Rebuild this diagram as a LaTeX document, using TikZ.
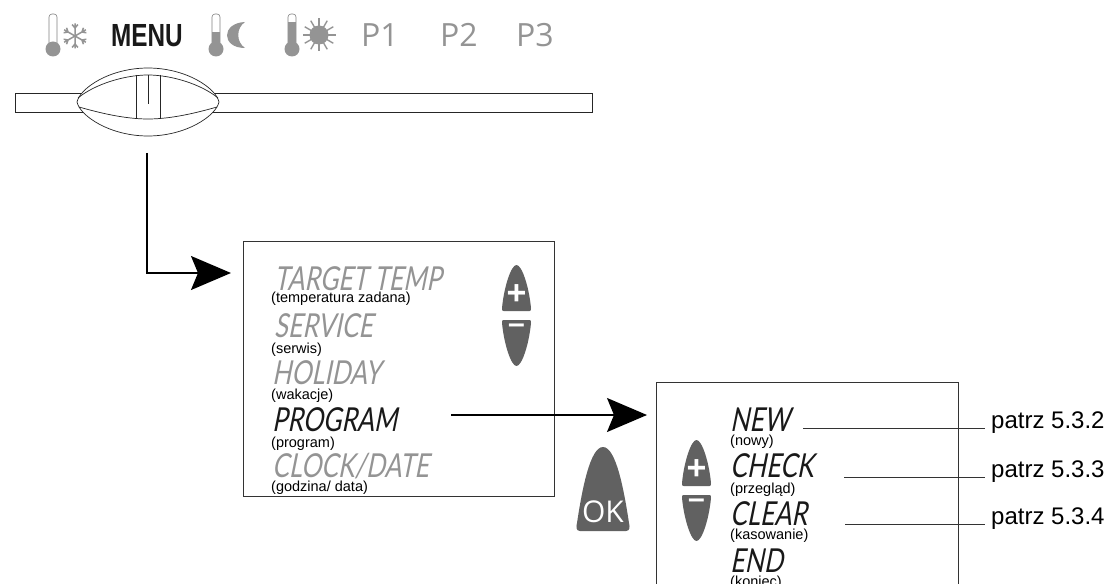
\documentclass[tikz,border=0pt]{standalone}
\usepackage{fontspec}
\usepackage{tikz}
\usetikzlibrary{arrows.meta,positioning}
\setmainfont{Liberation Sans}
\newfontfamily\lcdfont[FakeStretch=0.76,FakeSlant=0.2]{Lato}
\newfontfamily\menufont[FakeStretch=0.76]{Liberation Sans}
\newfontfamily\tabfont{Open Sans}

\begin{document}
\begin{tikzpicture}[x=1pt,y=-1pt,>=Stealth,
  screen/.style={draw=black!80,line width=0.8pt,inner sep=0pt},
  lcd/.style={anchor=base west,inner sep=0pt,text=black!42,font=\lcdfont\fontsize{33}{33}\selectfont},
  lcdon/.style={lcd,text=black!90},
  capt/.style={anchor=west,inner sep=0pt,yshift=-1.5pt,font=\fontsize{14.5}{16}\selectfont},
  tab/.style={anchor=base west,inner sep=0pt,text=black!42,font=\tabfont\fontsize{32}{32}\selectfont},
  ref/.style={anchor=base west,inner sep=0pt,font=\fontsize{24}{24}\selectfont},
  flow/.style={->,line width=1.5pt},
  leader/.style={draw=black!80,line width=0.8pt,shorten >=6pt},
  outline/.style={draw=black!85,line width=0.7pt},
  thermo/.pic={
    \draw[draw=black!50,line width=0.6pt,rounded corners=3pt] (-4,36) -- (-4,0) -- (4,0) -- (4,36);
    \fill[black!42] (-4,#1) rectangle (4,36);
    \fill[black!42] (0,35) circle (7.5);},
  updown/.pic={
    \fill[black!62] (1.5,46) .. controls (0,46) and (0,45) .. (0,43)
      .. controls (2,22) and (9,0) .. (14.5,0) .. controls (20,0) and (27,22) .. (29,43)
      .. controls (29,45) and (29,46) .. (27.5,46) -- cycle;
    \fill[black!62] (1.5,55) .. controls (0,55) and (0,56) .. (0,58)
      .. controls (2,79) and (9,101) .. (14.5,101) .. controls (20,101) and (27,79) .. (29,58)
      .. controls (29,56) and (29,55) .. (27.5,55) -- cycle;
    \node[text=white,inner sep=0pt,font=\bfseries\fontsize{34}{34}\selectfont] at (14.5,30) {+};
    \node[text=white,inner sep=0pt,font=\bfseries\fontsize{30}{30}\selectfont] at (14.5,64) {--};}]
\useasboundingbox (0,0) rectangle (1110,585);
\clip (0,0) rectangle (1110,583);
% top row
\pic at (53,14) {thermo=36};
\pic at (216,14) {thermo=18};
\pic at (292,14) {thermo=8};
\begin{scope}[shift={(75,36)},draw=black!42,line width=1.5pt]
  \foreach \a in {30,90,150,210,270,330}
    \draw (0,0) -- (\a:12.5) (\a:8) -- ++(\a+40:4.5) (\a:8) -- ++(\a-40:4.5);
\end{scope}
\fill[black!42] (245,22) .. controls (221,23) and (221,48) .. (245,48)
  .. controls (236,42) and (236,28) .. (245,22) -- cycle;
\fill[black!42] (319,35) circle (9.5);
\begin{scope}[shift={(319,35)},draw=black!42,line width=1.4pt]
  \foreach \a in {0,30,...,330}
    \draw (0,0) -- (\a:16.5);
\end{scope}
\node[anchor=base west,inner sep=0pt,text=black!90,font=\menufont\bfseries\fontsize{32}{32}\selectfont] (menu) at (111,47) {MENU};
\node[tab] (pa) at (361,47) {P1};
\node[tab] (pb) at (440,47) {P2};
\node[tab] (pc) at (516,47) {P3};
% slider
\draw[outline,fill=white] (15,93.5) rectangle (592,112);
\draw[outline,fill=white] (77,102) .. controls (80,88) and (110,68) .. (148,68)
  .. controls (186,68) and (216,88) .. (219,102) .. controls (216,116) and (186,136) .. (148,136)
  .. controls (110,136) and (80,116) .. (77,102) -- cycle;
\draw[outline] (78,98) .. controls (95,84) and (125,75) .. (148,75)
  .. controls (171,75) and (201,84) .. (218,98);
\draw[outline] (79,107) .. controls (100,113) and (125,119) .. (148,119)
  .. controls (171,119) and (196,113) .. (217,107);
\draw[outline] (136,75) -- (136,119) (160,75) -- (160,119) (148,75) -- (148,104);
% first screen
\node[screen,minimum width=311pt,minimum height=255pt] (mainbox) at (398.5,369) {};
\node[lcd] (target) at (274,290) {TARGET TEMP};
\node[capt] (targetc) at (271,297) {(temperatura zadana)};
\node[lcd] (service) at (274,337) {SERVICE};
\node[capt] (servicec) at (271,348) {(serwis)};
\node[lcd] (holiday) at (272,384) {HOLIDAY};
\node[capt] (holidayc) at (271,394) {(wakacje)};
\node[lcdon] (program) at (272,431) {PROGRAM};
\node[capt] (programc) at (271,442) {(program)};
\node[lcd] (clock) at (272,477) {CLOCK/DATE};
\node[capt] (clockc) at (271,486) {(godzina/ data)};
\pic at (502,265) {updown};
% ok key
\fill[black!62] (580,531) .. controls (576,531) and (576,527) .. (577,523)
  .. controls (582,490) and (590,447) .. (603,447) .. controls (616,447) and (624,490) .. (629,523)
  .. controls (630,527) and (630,531) .. (626,531) -- cycle;
\node[text=white,inner sep=0pt,font=\tabfont\fontsize{30}{30}\selectfont] (okkey) at (603,512) {OK};
% second screen
\node[screen,minimum width=302pt,minimum height=240pt] (subbox) at (807,502) {};
\node[lcdon] (new) at (730,431) {NEW};
\node[capt] (newc) at (730,440) {(nowy)};
\node[lcdon] (check) at (730,477) {CHECK};
\node[capt] (checkc) at (730,488) {(przegląd)};
\node[lcdon] (clear) at (730,525) {CLEAR};
\node[capt] (clearc) at (730,534) {(kasowanie)};
\node[lcdon] (end) at (730,572) {END};
\node[capt] (endc) at (730,581) {(koniec)};
\pic at (682,440) {updown};
% references
\node[ref] (refnew) at (991,428) {patrz 5.3.2};
\node[ref] (refcheck) at (991,477) {patrz 5.3.3};
\node[ref] (refclear) at (991,524) {patrz 5.3.4};
\coordinate (newout) at (803,428);
\coordinate (checkout) at (844,477);
\coordinate (clearout) at (845,524);
\draw[leader] (newout) -- (refnew.base west);
\draw[leader] (checkout) -- (refcheck.base west);
\draw[leader] (clearout) -- (refclear.base west);
% arrows
\coordinate (sliderout) at (147,153);
\coordinate (mainin) at (231,273);
\coordinate (progout) at (451,415);
\coordinate (subin) at (647,415);
\draw[flow,-{Stealth[length=40pt,width=34pt,inset=7pt]}] (sliderout) |- (mainin);
\draw[flow,-{Stealth[length=40pt,width=34pt,inset=7pt]}] (progout) -- (subin);
\end{tikzpicture}
\end{document}
